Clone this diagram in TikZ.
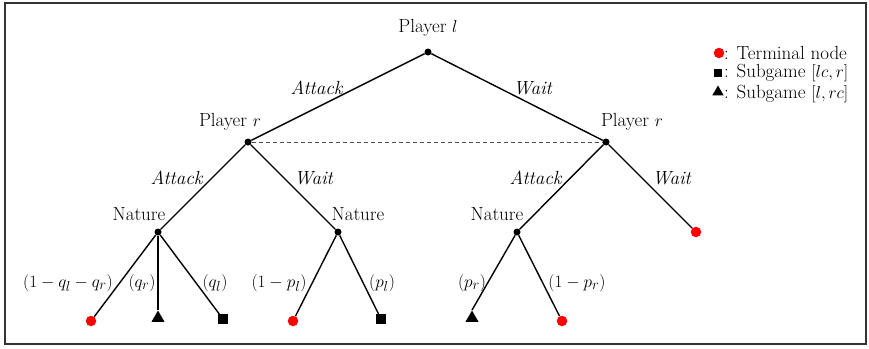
\documentclass[tikz,border=0pt]{standalone}
\usetikzlibrary{shapes.geometric}
\begin{document}
\begin{tikzpicture}[x=1pt,y=-1pt,
  every node/.style={font=\fontsize{19}{22}\selectfont, inner sep=0pt},
  dec/.style={circle, fill=black, minimum size=7pt},
  term/.style={circle, fill=red, minimum size=10.5pt},
  sqr/.style={rectangle, fill=black, minimum size=9.5pt},
  tri/.style={regular polygon, regular polygon sides=3, fill=black, minimum size=15pt},
  branch/.style={line width=1.4pt, black},
  info/.style={line width=1pt, gray!60!black, dash pattern=on 4pt off 3pt}]
\useasboundingbox (0,0) rectangle (869,348);
\draw[line width=1.3pt, black!80] (5,3) rectangle (866,344);
% decision nodes
\node[dec] (root) at (428,52) {};
\node[dec] (pl) at (248,142) {};
\node[dec] (pr) at (606,142) {};
\node[dec] (n1) at (158,232) {};
\node[dec] (n2) at (338,232) {};
\node[dec] (n3) at (517,232) {};
% leaves
\node[term] (t0) at (696,232) {};
\node[term] (t1) at (91,321) {};
\node[tri] (g1) at (158,318) {};
\node[sqr] (s1) at (223,319) {};
\node[term] (t2) at (293,321) {};
\node[sqr] (s2) at (381,319) {};
\node[tri] (g2) at (472,318) {};
\node[term] (t3) at (562,321) {};
% branches
\draw[branch] (root) -- (pl);
\draw[branch] (root) -- (pr);
\draw[info] (pl) -- (pr);
\draw[branch] (pl) -- (n1);
\draw[branch] (pl) -- (n2);
\draw[branch] (pr) -- (n3);
\draw[branch] (pr) -- (t0);
\draw[branch] (n1) -- (t1);
\draw[branch] (n1) -- (g1.north);
\draw[branch] (n1) -- (s1);
\draw[branch] (n2) -- (t2);
\draw[branch] (n2) -- (s2);
\draw[branch] (n3) -- (g2.north);
\draw[branch] (n3) -- (t3);
% player labels
\node (lroot) at (428,28) {Player $l$};
\node (lpl) at (230,122) {Player $r$};
\node (lpr) at (632,122) {Player $r$};
\node (ln1) at (139,214) {Nature};
\node (ln2) at (358,214) {Nature};
\node (ln3) at (497,214) {Nature};
% action labels
\node (a1) at (317,88) {\textit{Attack}};
\node (w1) at (533,88) {\textit{Wait}};
\node (a2) at (177,178) {\textit{Attack}};
\node (w2) at (314,178) {\textit{Wait}};
\node (a3) at (536,178) {\textit{Attack}};
\node (w3) at (672,178) {\textit{Wait}};
% probabilities
\node (p1) at (68,283) {$(1-q_l-q_r)$};
\node (p2) at (142,283) {$(q_r)$};
\node (p3) at (215,283) {$(q_l)$};
\node (p4) at (279,283) {$(1-p_l)$};
\node (p5) at (382,283) {$(p_l)$};
\node (p6) at (472,283) {$(p_r)$};
\node (p7) at (577,283) {$(1-p_r)$};
% legend
\node[term] (lg1) at (719,53) {};
\node[sqr, minimum size=8.5pt] (lg2) at (718,73) {};
\node[tri, minimum size=13pt] (lg3) at (718,92) {};
\node[anchor=west] (lt1) at (724,53) {: Terminal node};
\node[anchor=west] (lt2) at (724,73) {: Subgame $[lc,r]$};
\node[anchor=west] (lt3) at (724,94) {: Subgame $[l,rc]$};
\end{tikzpicture}
\end{document}
